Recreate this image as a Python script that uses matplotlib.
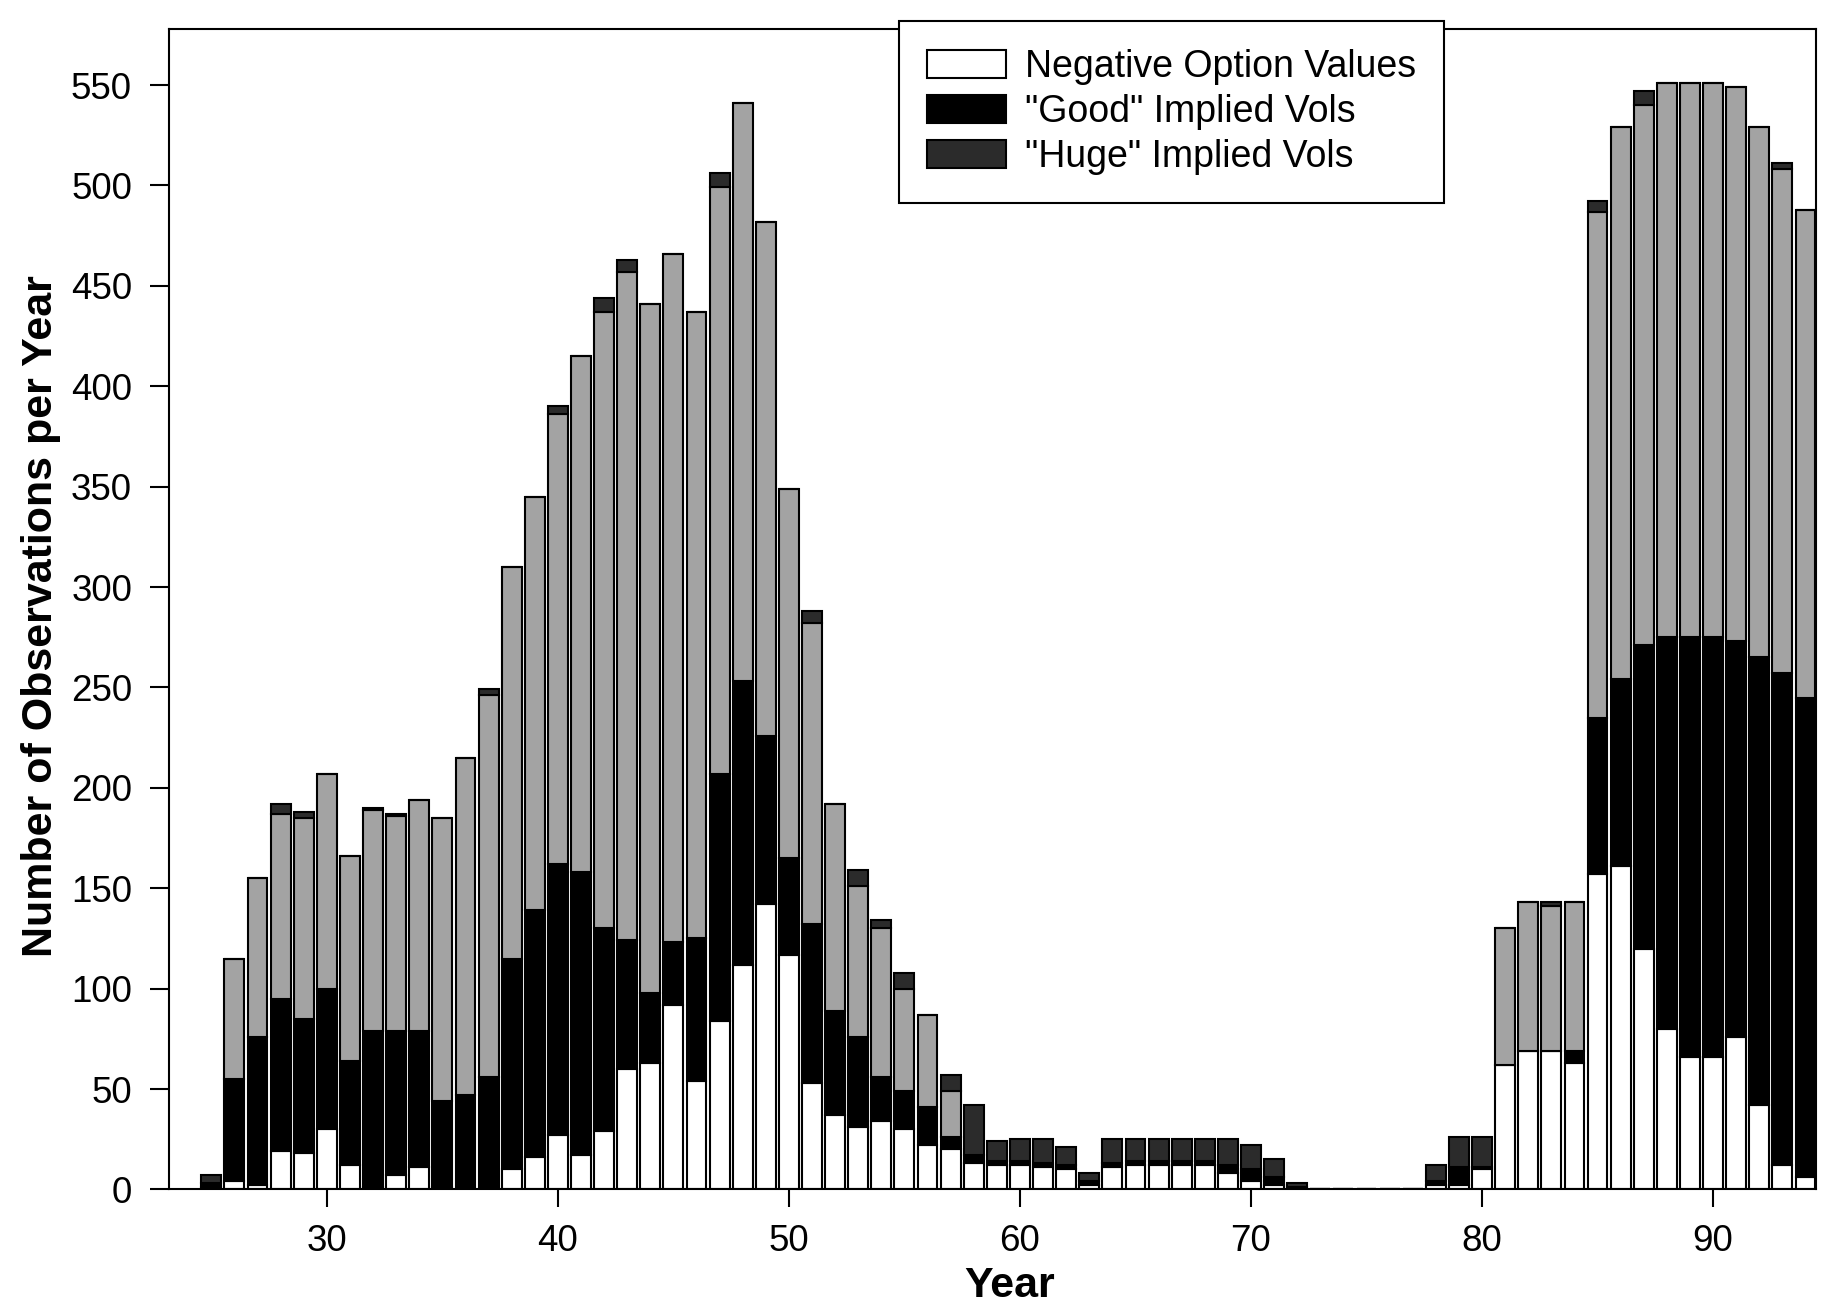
import numpy as np
import matplotlib
matplotlib.use('Agg')
import matplotlib.pyplot as plt

plt.rcParams['font.family'] = ['Liberation Sans', 'DejaVu Sans']

# counts per year (bottom -> top of each stacked bar)
years = list(range(25, 95))

negative = [1, 4, 2, 19, 18, 30, 12, 1, 7, 11,
            1, 0, 0, 10, 16, 27, 17, 29, 60, 63,
            92, 54, 84, 112, 142, 117, 53, 37, 31, 34,
            30, 22, 20, 13, 12, 12, 11, 10, 2, 11,
            12, 12, 12, 12, 8, 4, 2, 0, 0, 0,
            0, 0, 0, 2, 2, 10, 62, 69, 69, 63,
            157, 161, 120, 80, 66, 66, 76, 42, 12, 6]

good = [2, 51, 74, 76, 67, 70, 52, 78, 72, 68,
        43, 47, 56, 105, 123, 135, 141, 101, 64, 35,
        31, 71, 123, 141, 84, 48, 79, 52, 45, 22,
        19, 19, 6, 4, 2, 2, 2, 2, 2, 2,
        2, 2, 2, 2, 4, 6, 4, 1, 0, 0,
        0, 0, 0, 2, 9, 1, 0, 0, 0, 6,
        78, 93, 151, 195, 209, 209, 197, 223, 245, 239]

# light grey part of the bars (no legend entry in the original)
other = [0, 60, 79, 92, 100, 107, 102, 110, 107, 115,
         141, 168, 190, 195, 206, 224, 257, 307, 333, 343,
         343, 312, 292, 288, 256, 184, 150, 103, 75, 74,
         51, 46, 23, 0, 0, 0, 0, 0, 0, 0,
         0, 0, 0, 0, 0, 0, 0, 0, 0, 0,
         0, 0, 0, 0, 0, 0, 68, 74, 72, 74,
         252, 275, 269, 276, 276, 276, 276, 264, 251, 243]

huge = [4, 0, 0, 5, 3, 0, 0, 1, 1, 0,
        0, 0, 3, 0, 0, 4, 0, 7, 6, 0,
        0, 0, 7, 0, 0, 0, 6, 0, 8, 4,
        8, 0, 8, 25, 10, 11, 12, 9, 4, 12,
        11, 11, 11, 11, 13, 12, 9, 2, 0, 0,
        0, 0, 0, 8, 15, 15, 0, 0, 2, 0,
        5, 0, 7, 0, 0, 0, 0, 0, 3, 0]

legend_labels = ['Negative Option Values', '"Good" Implied Vols', '"Huge" Implied Vols']

fig = plt.figure(figsize=(18.25, 13.09), dpi=100)
ax = fig.add_axes([0.0925, 0.0913, 0.9025, 0.8867])

w = 0.86
lw = 1.5
neg = np.array(negative)
gd = np.array(good)
oth = np.array(other)

b1 = ax.bar(years, negative, width=w, color='white', edgecolor='black', linewidth=lw, label=legend_labels[0])
b2 = ax.bar(years, good, width=w, bottom=neg, color='black', edgecolor='black', linewidth=lw, label=legend_labels[1])
ax.bar(years, other, width=w, bottom=neg + gd, color='#a3a3a3', edgecolor='black', linewidth=lw)
b4 = ax.bar(years, huge, width=w, bottom=neg + gd + oth, color='#2b2b2b', edgecolor='black', linewidth=lw, label=legend_labels[2])

ax.set_xlim(23.16, 94.45)
ax.set_ylim(0, 578)
ax.set_yticks(np.arange(0, 551, 50))
ax.set_xticks(np.arange(30, 91, 10))

for s in ax.spines.values():
    s.set_linewidth(1.5)

ax.tick_params(axis='y', direction='out', length=13.5, width=1.5, pad=13, labelsize=26.5)
ax.tick_params(axis='x', direction='out', length=13, width=1.5, pad=12, labelsize=26.5)

ax.set_ylabel('Number of Observations per Year', fontsize=31, fontweight='bold')
ax.yaxis.set_label_coords(-0.0656, 0.494)
ax.set_xlabel('Year', fontsize=31, fontweight='bold')
ax.xaxis.set_label_coords(0.5106, -0.066)

leg = ax.legend(handles=[b1, b2, b4], loc='upper left', bbox_to_anchor=(0.4926, 0.984),
                bbox_transform=fig.transFigure, borderaxespad=0, fontsize=27,
                fancybox=False, framealpha=1, edgecolor='black',
                handlelength=2.1, handleheight=0.75, labelspacing=0.24,
                handletextpad=0.5, borderpad=0.75)
leg.get_frame().set_linewidth(1.5)

fig.savefig('out.png', dpi=100)
